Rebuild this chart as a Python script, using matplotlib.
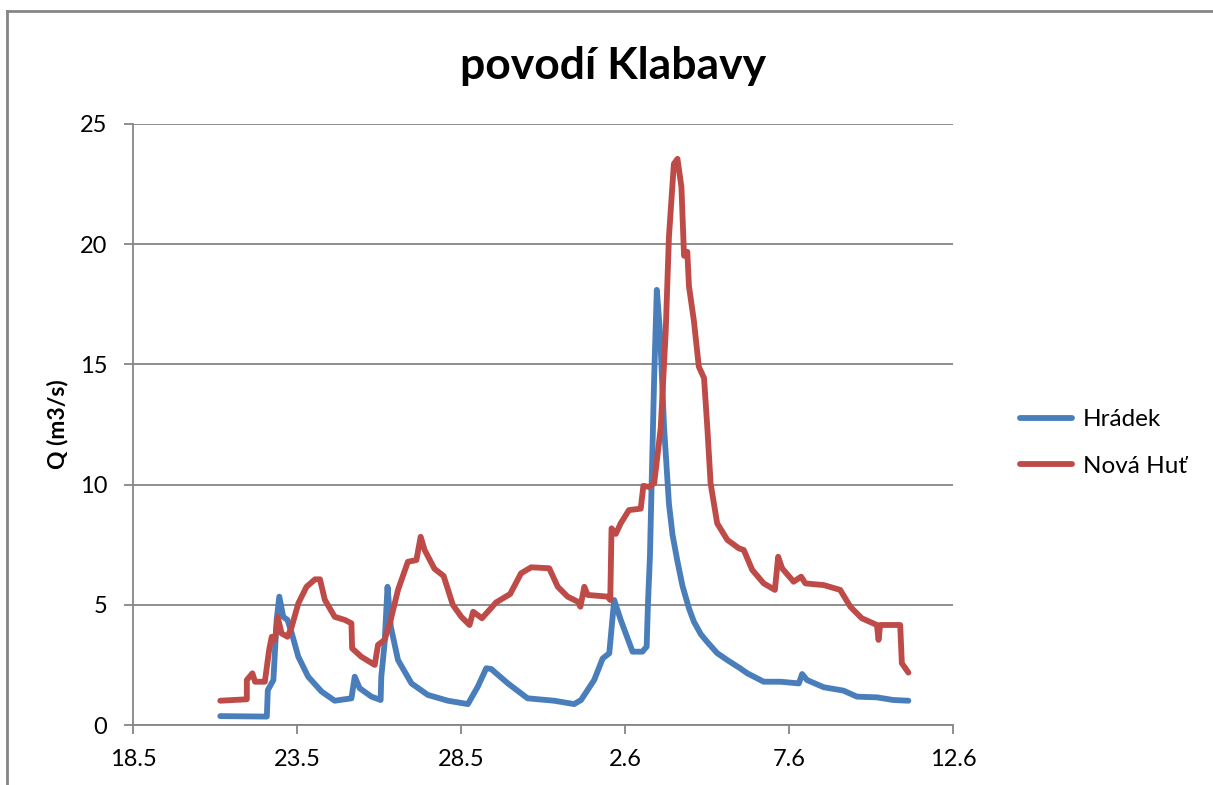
import numpy as np
import matplotlib
matplotlib.use("Agg")
import matplotlib.pyplot as plt
from matplotlib.lines import Line2D

# days counted from 18.5., flow in m3/s
hradek_day = [2.66, 4.08, 4.11, 4.28, 4.38, 4.46, 4.58, 4.71, 4.84, 5.04, 5.34, 5.75,
              6.15, 6.66, 6.76, 6.91, 7.27, 7.55, 7.57, 7.67, 7.76, 7.86, 8.08, 8.49,
              8.99, 9.6, 10.21, 10.51, 10.77, 10.92, 11.43, 12.03, 12.84, 13.45, 13.66,
              14.06, 14.32, 14.52, 14.67, 14.87, 15.23, 15.53, 15.66, 15.70, 15.76, 15.82,
              15.89, 15.97, 16.07, 16.19, 16.34, 16.45, 16.6, 16.75, 16.95, 17.1, 17.31,
              17.51, 17.81, 18.12, 18.52, 18.73, 19.23, 19.74, 20.3, 20.4, 20.55, 21.06,
              21.66, 22.07, 22.68, 23.18, 23.64]
hradek_q = [0.37, 0.35, 1.45, 1.87, 4.37, 5.34, 4.5, 4.37, 3.82, 2.84, 2.01, 1.39,
            1.01, 1.11, 2.01, 1.53, 1.18, 1.04, 2.01, 3.4, 5.75, 4.09, 2.7, 1.73,
            1.25, 1.01, 0.87, 1.59, 2.36, 2.33, 1.73, 1.11, 1.01, 0.87, 1.04,
            1.87, 2.77, 2.98, 5.2, 4.37, 3.05, 3.05, 3.26, 5.06, 7.0, 10.5,
            14.5, 18.1, 16.3, 12.4, 9.2, 7.9, 6.8, 5.8, 4.85, 4.3, 3.78,
            3.45, 2.99, 2.7, 2.35, 2.15, 1.8, 1.8, 1.73, 2.12, 1.87, 1.57,
            1.43, 1.18, 1.15, 1.04, 1.01]

nova_hut_day = [2.66, 3.47, 3.47, 3.64, 3.72, 4.02, 4.15, 4.23, 4.33, 4.41, 4.53, 4.71,
                4.84, 5.04, 5.29, 5.55, 5.7, 5.85, 6.15, 6.46, 6.66, 6.68, 6.96, 7.37,
                7.47, 7.67, 7.83, 8.08, 8.38, 8.64, 8.77, 8.89, 9.19, 9.47, 9.75, 10.01,
                10.26, 10.37, 10.64, 11.07, 11.5, 11.83, 12.14, 12.69, 12.95, 13.25, 13.56,
                13.64, 13.76, 13.86, 14.47, 14.55, 14.59, 14.72, 14.87, 15.12, 15.48, 15.56,
                15.73, 15.89, 16.09, 16.24, 16.34, 16.49, 16.6, 16.72, 16.8, 16.9, 16.95,
                17.1, 17.25, 17.41, 17.51, 17.61, 17.81, 18.12, 18.47, 18.62, 18.88, 19.23,
                19.57, 19.67, 19.79, 20.14, 20.37, 20.5, 21.06, 21.56, 21.87, 22.22, 22.68,
                22.73, 22.78, 23.39, 23.44, 23.64]
nova_hut_q = [1.01, 1.07, 1.87, 2.15, 1.8, 1.8, 3.12, 3.67, 3.54, 4.5, 3.81, 3.67,
              4.09, 5.06, 5.75, 6.06, 6.06, 5.2, 4.5, 4.37, 4.23, 3.19, 2.84, 2.5,
              3.33, 3.54, 4.23, 5.62, 6.79, 6.86, 7.83, 7.28, 6.5, 6.2, 5.0, 4.5,
              4.16, 4.71, 4.44, 5.1, 5.45, 6.31, 6.56, 6.52, 5.75, 5.34, 5.13,
              4.92, 5.75, 5.41, 5.34, 5.2, 8.18, 7.95, 8.39, 8.94, 9.0, 9.95,
              9.9, 10.06, 12.37, 16.34, 20.32, 23.34, 23.55, 22.38, 19.52, 19.68, 18.25,
              16.82, 14.91, 14.43, 12.37, 10.05, 8.39, 7.7, 7.35, 7.28, 6.45, 5.89,
              5.62, 7.0, 6.52, 5.96, 6.17, 5.89, 5.82, 5.62, 4.92, 4.44, 4.16,
              3.54, 4.16, 4.16, 2.57, 2.18]

tick_days = [0, 5, 10, 15, 20, 25]
tick_labels = ["18.5", "23.5", "28.5", "2.6", "7.6", "12.6"]

plt.rcParams["font.family"] = ["Lato", "DejaVu Sans"]

fig = plt.figure(figsize=(12.13, 7.85), dpi=100)
ax = fig.add_axes([133 / 1213, 1 - 725 / 785, 820 / 1213, 601 / 785])

grey = "#868686"
ax.plot(hradek_day, hradek_q, color="#4A7EBB", linewidth=4.2,
        solid_capstyle="round", solid_joinstyle="round", label="Hrádek", zorder=3)
ax.plot(nova_hut_day, nova_hut_q, color="#BE4B48", linewidth=4.2,
        solid_capstyle="round", solid_joinstyle="round", label="Nová Huť", zorder=3)

ax.set_xlim(0, 25)
ax.set_ylim(0, 25)
ax.set_xticks(tick_days)
ax.set_xticklabels(tick_labels)
ax.set_yticks(np.arange(0, 26, 5))
ax.yaxis.grid(True, color=grey, linewidth=1.3)
ax.set_axisbelow(True)
for s in ["top", "right"]:
    ax.spines[s].set_visible(False)
for s in ["left", "bottom"]:
    ax.spines[s].set_color(grey)
    ax.spines[s].set_linewidth(1.3)
ax.tick_params(axis="both", colors=grey, labelcolor="black", length=6.5, width=1.3,
               labelsize=17)
ax.tick_params(axis="y", pad=12)
ax.tick_params(axis="x", pad=11)
ax.set_ylabel("Q (m3/s)", fontsize=16.5, fontweight="bold", labelpad=8)

fig.text(613 / 1213, 1 - 66 / 785, "povodí Klabavy", ha="center", va="center",
         fontsize=32, fontweight="bold")

fig.legend(loc="center left", bbox_to_anchor=(998 / 1213, 1 - 443 / 785),
           frameon=False, fontsize=17.5, handlelength=2.15, handletextpad=0.45,
           labelspacing=1.05)

# chart frame (left and top edges visible)
fig.add_artist(Line2D([7 / 1213, 7 / 1213], [0, 1 - 11 / 785], color=grey, linewidth=2))
fig.add_artist(Line2D([7 / 1213, 1], [1 - 11 / 785, 1 - 11 / 785], color=grey, linewidth=2))

fig.savefig("out.png", dpi=100)
